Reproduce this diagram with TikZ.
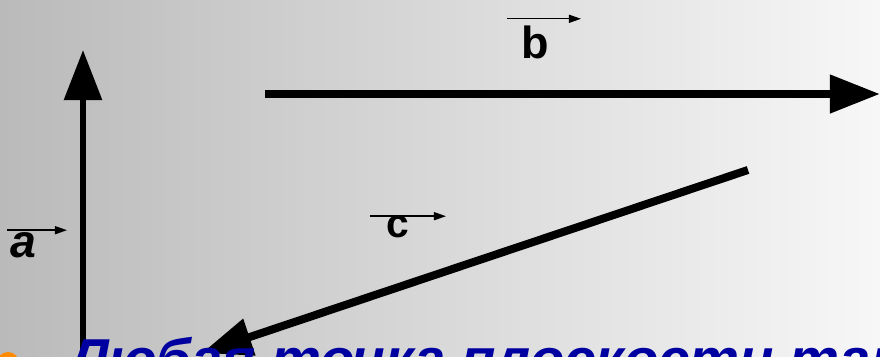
\documentclass[tikz,border=0pt]{standalone}
\usepackage{fontspec}
\setmainfont{Liberation Sans}
\usetikzlibrary{arrows.meta}
\definecolor{bgleft}{RGB}{186,186,186}
\definecolor{bgright}{RGB}{247,247,247}
\definecolor{slideblue}{RGB}{0,0,160}
\definecolor{bulletorange}{RGB}{255,140,0}

\begin{document}
\begin{tikzpicture}[
  x=0.025cm, y=-0.025cm,
  every node/.style={inner sep=0pt},
  vec/.style={-{Triangle[length=1.25cm, width=0.92cm]}, line width=0.2cm},
  vecbar/.style={-{Triangle[length=0.3cm, width=0.2cm]}, line width=0.035cm},
  lbl/.style={anchor=base, font=\bfseries\fontsize{32}{36}\selectfont}
]
\clip (0,0) rectangle (880,356);
\shade[left color=bgleft, right color=bgright] (0,0) rectangle (880,356);

% end points of the three vectors
\coordinate (a0) at (83,380);
\coordinate (a1) at (83,50);
\coordinate (b0) at (265,94);
\coordinate (b1) at (880,94);
\coordinate (c0) at (748,170);
\coordinate (c1) at (202,353);

\draw[vec, line width=0.16cm] (a0) -- (a1);
\draw[vec] (b0) -- (b1);
\draw[vec] (c0) -- (c1);

% labels with their arrows
\node[lbl] (lb) at (535,58) {b};
\node[lbl, font=\bfseries\fontsize{29}{32}\selectfont] (lc) at (398,237) {c};
\node[lbl, font=\bfseries\itshape\fontsize{33}{36}\selectfont] (la) at (23,257) {a};
\draw[vecbar] ([xshift=-0.7cm, yshift=0.98cm]lb.base) -- ++(74,0);
\draw[vecbar] ([xshift=-0.7cm, yshift=0.52cm]lc.base) -- ++(76,0);
\draw[vecbar] ([xshift=-0.4cm, yshift=0.67cm]la.base) -- ++(60,0);

% cut-off line of text
\node[circle, fill=bulletorange, minimum size=0.55cm] (dot) at (8,363) {};
\node[anchor=base west, text=slideblue,
      font=\bfseries\itshape\fontsize{40}{44}\selectfont] (rule) at (70,378)
  {Любая точка плоскости также};
\end{tikzpicture}
\end{document}
